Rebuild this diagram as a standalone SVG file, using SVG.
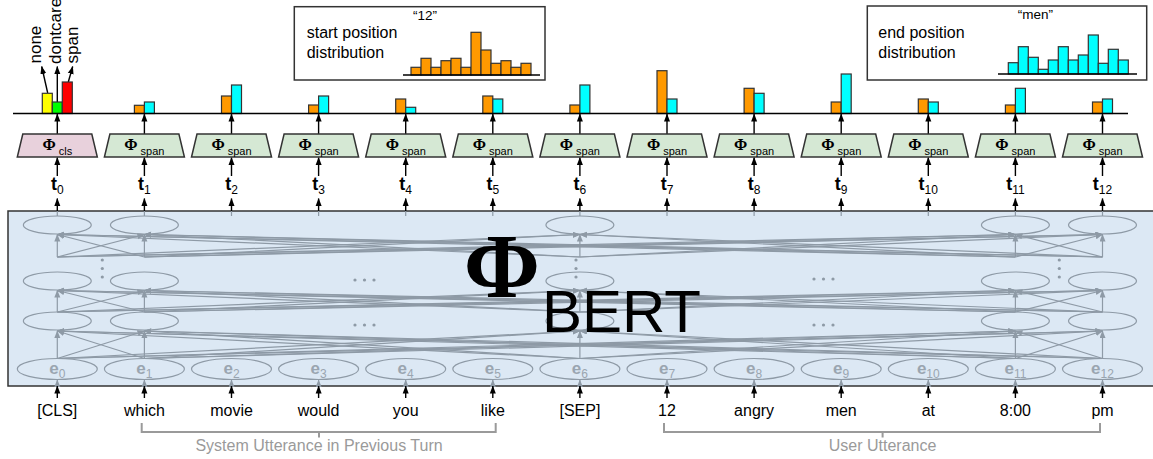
<svg xmlns="http://www.w3.org/2000/svg" width="1153" height="459" viewBox="0 0 1153 459">
<defs>
<marker id="ab" markerUnits="userSpaceOnUse" markerWidth="8" markerHeight="7" refX="7.5" refY="3.5" orient="auto"><path d="M0,0.5 L8,3.5 L0,6.5 z" fill="#000"/></marker>
<marker id="ag" markerUnits="userSpaceOnUse" markerWidth="8" markerHeight="7" refX="7" refY="3" orient="auto"><path d="M0,0 L7.5,3 L0,6 z" fill="#8e9aa6"/></marker>
</defs>
<style>
text{font-family:"Liberation Sans",Arial,sans-serif}
.net line{stroke:#8e9aa6;stroke-width:1.2;marker-end:url(#ag)}
.gl{stroke:#8e9aa6;stroke-width:1.2}
.ell{fill:none;stroke:#8e9aa6;stroke-width:1.2}
.blk{stroke:#000;stroke-width:1.4;marker-end:url(#ab)}
.tcls{fill:#e8d1dc;stroke:#333;stroke-width:1.5}
.tspan{fill:#d5e8d4;stroke:#333;stroke-width:1.5}
.or{fill:#ff9900;stroke:#333;stroke-width:1.2}
.cy{fill:#00ffff;stroke:#333;stroke-width:1.2}
.phi{font-family:"Liberation Serif","Times New Roman",serif;font-weight:bold;font-size:16px}
.bigphi{font-family:"Liberation Serif","Times New Roman",serif;font-weight:bold;font-size:92px}
.sub{font-size:11px}
.tl{font-weight:bold;font-size:18px}
.el{font-weight:bold;font-size:17px;fill:#9aa5b0}
.tok{font-size:16px;fill:#000}
.dot{fill:#8e9aa6}
.box{fill:#fff;stroke:#333;stroke-width:1.5}
.lbl{font-size:16px}
.slot{font-size:17px}
.q{font-size:13.5px}
.brk{fill:none;stroke:#9a9a9a;stroke-width:2}
.bt{font-size:16px;fill:#9a9a9a}
</style>

<g id="bert">
<rect x="8" y="211" width="1150" height="175" fill="#dce8f4" stroke="#333" stroke-width="1.5"/>
<g id="ellipses">
<ellipse class="ell" cx="57.3" cy="225" rx="34" ry="9"/><ellipse class="ell" cx="144.4" cy="225" rx="34" ry="9"/><ellipse class="ell" cx="579.9" cy="225" rx="34" ry="9"/><ellipse class="ell" cx="1015.4" cy="225" rx="34" ry="9"/><ellipse class="ell" cx="1102.5" cy="225" rx="34" ry="9"/>
<ellipse class="ell" cx="57.3" cy="281" rx="34" ry="9"/><ellipse class="ell" cx="144.4" cy="281" rx="34" ry="9"/><ellipse class="ell" cx="579.9" cy="281" rx="34" ry="9"/><ellipse class="ell" cx="1015.4" cy="281" rx="34" ry="9"/><ellipse class="ell" cx="1102.5" cy="281" rx="34" ry="9"/>
<ellipse class="ell" cx="57.3" cy="321" rx="34" ry="9"/><ellipse class="ell" cx="144.4" cy="321" rx="34" ry="9"/><ellipse class="ell" cx="579.9" cy="321" rx="34" ry="9"/><ellipse class="ell" cx="1015.4" cy="321" rx="34" ry="9"/><ellipse class="ell" cx="1102.5" cy="321" rx="34" ry="9"/>
</g>
<g id="embeddings">
<ellipse class="ell" cx="57.3" cy="369" rx="40" ry="10.5"/><ellipse class="ell" cx="144.4" cy="369" rx="40" ry="10.5"/><ellipse class="ell" cx="231.5" cy="369" rx="40" ry="10.5"/><ellipse class="ell" cx="318.6" cy="369" rx="40" ry="10.5"/><ellipse class="ell" cx="405.7" cy="369" rx="40" ry="10.5"/><ellipse class="ell" cx="492.8" cy="369" rx="40" ry="10.5"/><ellipse class="ell" cx="579.9" cy="369" rx="40" ry="10.5"/><ellipse class="ell" cx="667" cy="369" rx="40" ry="10.5"/><ellipse class="ell" cx="754.1" cy="369" rx="40" ry="10.5"/><ellipse class="ell" cx="841.2" cy="369" rx="40" ry="10.5"/><ellipse class="ell" cx="928.3" cy="369" rx="40" ry="10.5"/><ellipse class="ell" cx="1015.4" cy="369" rx="40" ry="10.5"/><ellipse class="ell" cx="1102.5" cy="369" rx="40" ry="10.5"/>
<text class="el" x="57.3" y="374" text-anchor="middle">e<tspan font-weight="normal" font-size="12" dy="4">0</tspan></text>
<text class="el" x="144.4" y="374" text-anchor="middle">e<tspan font-weight="normal" font-size="12" dy="4">1</tspan></text>
<text class="el" x="231.5" y="374" text-anchor="middle">e<tspan font-weight="normal" font-size="12" dy="4">2</tspan></text>
<text class="el" x="318.6" y="374" text-anchor="middle">e<tspan font-weight="normal" font-size="12" dy="4">3</tspan></text>
<text class="el" x="405.7" y="374" text-anchor="middle">e<tspan font-weight="normal" font-size="12" dy="4">4</tspan></text>
<text class="el" x="492.8" y="374" text-anchor="middle">e<tspan font-weight="normal" font-size="12" dy="4">5</tspan></text>
<text class="el" x="579.9" y="374" text-anchor="middle">e<tspan font-weight="normal" font-size="12" dy="4">6</tspan></text>
<text class="el" x="667" y="374" text-anchor="middle">e<tspan font-weight="normal" font-size="12" dy="4">7</tspan></text>
<text class="el" x="754.1" y="374" text-anchor="middle">e<tspan font-weight="normal" font-size="12" dy="4">8</tspan></text>
<text class="el" x="841.2" y="374" text-anchor="middle">e<tspan font-weight="normal" font-size="12" dy="4">9</tspan></text>
<text class="el" x="928.3" y="374" text-anchor="middle">e<tspan font-weight="normal" font-size="12" dy="4">10</tspan></text>
<text class="el" x="1015.4" y="374" text-anchor="middle">e<tspan font-weight="normal" font-size="12" dy="4">11</tspan></text>
<text class="el" x="1102.5" y="374" text-anchor="middle">e<tspan font-weight="normal" font-size="12" dy="4">12</tspan></text>
</g>
<g id="dots">
<circle class="dot" cx="102.3" cy="260" r="1.6"/><circle class="dot" cx="102.3" cy="268.5" r="1.6"/><circle class="dot" cx="102.3" cy="277" r="1.6"/>
<circle class="dot" cx="576" cy="260" r="1.6"/><circle class="dot" cx="576" cy="268.5" r="1.6"/><circle class="dot" cx="576" cy="277" r="1.6"/>
<circle class="dot" cx="1059.3" cy="260" r="1.6"/><circle class="dot" cx="1059.3" cy="268.5" r="1.6"/><circle class="dot" cx="1059.3" cy="277" r="1.6"/>
<circle class="dot" cx="355" cy="280" r="1.6"/><circle class="dot" cx="364.5" cy="280" r="1.6"/><circle class="dot" cx="374" cy="280" r="1.6"/>
<circle class="dot" cx="355" cy="325" r="1.6"/><circle class="dot" cx="364.5" cy="325" r="1.6"/><circle class="dot" cx="374" cy="325" r="1.6"/>
<circle class="dot" cx="814" cy="279" r="1.6"/><circle class="dot" cx="823.5" cy="279" r="1.6"/><circle class="dot" cx="833" cy="279" r="1.6"/>
<circle class="dot" cx="814" cy="325" r="1.6"/><circle class="dot" cx="823.5" cy="325" r="1.6"/><circle class="dot" cx="833" cy="325" r="1.6"/>
</g>
</g>

<g id="connectors">
<g class="net">
<line x1="57.3" y1="358.5" x2="57.3" y2="331"/><line x1="57.3" y1="358.5" x2="144.4" y2="331"/><line x1="57.3" y1="358.5" x2="579.9" y2="331"/><line x1="57.3" y1="358.5" x2="1015.4" y2="331"/><line x1="57.3" y1="358.5" x2="1102.5" y2="331"/>
<line x1="144.4" y1="358.5" x2="57.3" y2="331"/><line x1="144.4" y1="358.5" x2="144.4" y2="331"/><line x1="144.4" y1="358.5" x2="579.9" y2="331"/><line x1="144.4" y1="358.5" x2="1015.4" y2="331"/><line x1="144.4" y1="358.5" x2="1102.5" y2="331"/>
<line x1="579.9" y1="358.5" x2="57.3" y2="331"/><line x1="579.9" y1="358.5" x2="144.4" y2="331"/><line x1="579.9" y1="358.5" x2="579.9" y2="331"/><line x1="579.9" y1="358.5" x2="1015.4" y2="331"/><line x1="579.9" y1="358.5" x2="1102.5" y2="331"/>
<line x1="1015.4" y1="358.5" x2="57.3" y2="331"/><line x1="1015.4" y1="358.5" x2="144.4" y2="331"/><line x1="1015.4" y1="358.5" x2="579.9" y2="331"/><line x1="1015.4" y1="358.5" x2="1015.4" y2="331"/><line x1="1015.4" y1="358.5" x2="1102.5" y2="331"/>
<line x1="1102.5" y1="358.5" x2="57.3" y2="331"/><line x1="1102.5" y1="358.5" x2="144.4" y2="331"/><line x1="1102.5" y1="358.5" x2="579.9" y2="331"/><line x1="1102.5" y1="358.5" x2="1015.4" y2="331"/><line x1="1102.5" y1="358.5" x2="1102.5" y2="331"/>

<line x1="57.3" y1="312" x2="57.3" y2="290.5"/><line x1="57.3" y1="312" x2="144.4" y2="290.5"/><line x1="57.3" y1="312" x2="579.9" y2="290.5"/><line x1="57.3" y1="312" x2="1015.4" y2="290.5"/><line x1="57.3" y1="312" x2="1102.5" y2="290.5"/>
<line x1="144.4" y1="312" x2="57.3" y2="290.5"/><line x1="144.4" y1="312" x2="144.4" y2="290.5"/><line x1="144.4" y1="312" x2="579.9" y2="290.5"/><line x1="144.4" y1="312" x2="1015.4" y2="290.5"/><line x1="144.4" y1="312" x2="1102.5" y2="290.5"/>
<line x1="579.9" y1="312" x2="57.3" y2="290.5"/><line x1="579.9" y1="312" x2="144.4" y2="290.5"/><line x1="579.9" y1="312" x2="579.9" y2="290.5"/><line x1="579.9" y1="312" x2="1015.4" y2="290.5"/><line x1="579.9" y1="312" x2="1102.5" y2="290.5"/>
<line x1="1015.4" y1="312" x2="57.3" y2="290.5"/><line x1="1015.4" y1="312" x2="144.4" y2="290.5"/><line x1="1015.4" y1="312" x2="579.9" y2="290.5"/><line x1="1015.4" y1="312" x2="1015.4" y2="290.5"/><line x1="1015.4" y1="312" x2="1102.5" y2="290.5"/>
<line x1="1102.5" y1="312" x2="57.3" y2="290.5"/><line x1="1102.5" y1="312" x2="144.4" y2="290.5"/><line x1="1102.5" y1="312" x2="579.9" y2="290.5"/><line x1="1102.5" y1="312" x2="1015.4" y2="290.5"/><line x1="1102.5" y1="312" x2="1102.5" y2="290.5"/>

<line x1="57.3" y1="257" x2="57.3" y2="234.5"/><line x1="57.3" y1="257" x2="144.4" y2="234.5"/><line x1="57.3" y1="257" x2="579.9" y2="234.5"/><line x1="57.3" y1="257" x2="1015.4" y2="234.5"/><line x1="57.3" y1="257" x2="1102.5" y2="234.5"/>
<line x1="144.4" y1="257" x2="57.3" y2="234.5"/><line x1="144.4" y1="257" x2="144.4" y2="234.5"/><line x1="144.4" y1="257" x2="579.9" y2="234.5"/><line x1="144.4" y1="257" x2="1015.4" y2="234.5"/><line x1="144.4" y1="257" x2="1102.5" y2="234.5"/>
<line x1="579.9" y1="257" x2="57.3" y2="234.5"/><line x1="579.9" y1="257" x2="144.4" y2="234.5"/><line x1="579.9" y1="257" x2="579.9" y2="234.5"/><line x1="579.9" y1="257" x2="1015.4" y2="234.5"/><line x1="579.9" y1="257" x2="1102.5" y2="234.5"/>
<line x1="1015.4" y1="257" x2="57.3" y2="234.5"/><line x1="1015.4" y1="257" x2="144.4" y2="234.5"/><line x1="1015.4" y1="257" x2="579.9" y2="234.5"/><line x1="1015.4" y1="257" x2="1015.4" y2="234.5"/><line x1="1015.4" y1="257" x2="1102.5" y2="234.5"/>
<line x1="1102.5" y1="257" x2="57.3" y2="234.5"/><line x1="1102.5" y1="257" x2="144.4" y2="234.5"/><line x1="1102.5" y1="257" x2="579.9" y2="234.5"/><line x1="1102.5" y1="257" x2="1015.4" y2="234.5"/><line x1="1102.5" y1="257" x2="1102.5" y2="234.5"/>

<line x1="57.3" y1="386" x2="57.3" y2="380"/><line x1="144.4" y1="386" x2="144.4" y2="380"/><line x1="231.5" y1="386" x2="231.5" y2="380"/><line x1="318.6" y1="386" x2="318.6" y2="380"/><line x1="405.7" y1="386" x2="405.7" y2="380"/><line x1="492.8" y1="386" x2="492.8" y2="380"/><line x1="579.9" y1="386" x2="579.9" y2="380"/><line x1="667" y1="386" x2="667" y2="380"/><line x1="754.1" y1="386" x2="754.1" y2="380"/><line x1="841.2" y1="386" x2="841.2" y2="380"/><line x1="928.3" y1="386" x2="928.3" y2="380"/><line x1="1015.4" y1="386" x2="1015.4" y2="380"/><line x1="1102.5" y1="386" x2="1102.5" y2="380"/>
</g>
<g>
<line class="gl" x1="57.3" y1="216" x2="57.3" y2="211"/><line class="gl" x1="144.4" y1="216" x2="144.4" y2="211"/><line class="gl" x1="231.5" y1="216" x2="231.5" y2="211"/><line class="gl" x1="318.6" y1="216" x2="318.6" y2="211"/><line class="gl" x1="405.7" y1="216" x2="405.7" y2="211"/><line class="gl" x1="492.8" y1="216" x2="492.8" y2="211"/><line class="gl" x1="579.9" y1="216" x2="579.9" y2="211"/><line class="gl" x1="667" y1="216" x2="667" y2="211"/><line class="gl" x1="754.1" y1="216" x2="754.1" y2="211"/><line class="gl" x1="841.2" y1="216" x2="841.2" y2="211"/><line class="gl" x1="928.3" y1="216" x2="928.3" y2="211"/><line class="gl" x1="1015.4" y1="216" x2="1015.4" y2="211"/><line class="gl" x1="1102.5" y1="216" x2="1102.5" y2="211"/>
</g>
<g id="input-arrows">
<line class="blk" x1="57.3" y1="398" x2="57.3" y2="386"/><line class="blk" x1="144.4" y1="398" x2="144.4" y2="386"/><line class="blk" x1="231.5" y1="398" x2="231.5" y2="386"/><line class="blk" x1="318.6" y1="398" x2="318.6" y2="386"/><line class="blk" x1="405.7" y1="398" x2="405.7" y2="386"/><line class="blk" x1="492.8" y1="398" x2="492.8" y2="386"/><line class="blk" x1="579.9" y1="398" x2="579.9" y2="386"/><line class="blk" x1="667" y1="398" x2="667" y2="386"/><line class="blk" x1="754.1" y1="398" x2="754.1" y2="386"/><line class="blk" x1="841.2" y1="398" x2="841.2" y2="386"/><line class="blk" x1="928.3" y1="398" x2="928.3" y2="386"/><line class="blk" x1="1015.4" y1="398" x2="1015.4" y2="386"/><line class="blk" x1="1102.5" y1="398" x2="1102.5" y2="386"/>
</g>
<g id="bert-to-t">
<line class="blk" x1="57.3" y1="211" x2="57.3" y2="198.5"/><line class="blk" x1="144.4" y1="211" x2="144.4" y2="198.5"/><line class="blk" x1="231.5" y1="211" x2="231.5" y2="198.5"/><line class="blk" x1="318.6" y1="211" x2="318.6" y2="198.5"/><line class="blk" x1="405.7" y1="211" x2="405.7" y2="198.5"/><line class="blk" x1="492.8" y1="211" x2="492.8" y2="198.5"/><line class="blk" x1="579.9" y1="211" x2="579.9" y2="198.5"/><line class="blk" x1="667" y1="211" x2="667" y2="198.5"/><line class="blk" x1="754.1" y1="211" x2="754.1" y2="198.5"/><line class="blk" x1="841.2" y1="211" x2="841.2" y2="198.5"/><line class="blk" x1="928.3" y1="211" x2="928.3" y2="198.5"/><line class="blk" x1="1015.4" y1="211" x2="1015.4" y2="198.5"/><line class="blk" x1="1102.5" y1="211" x2="1102.5" y2="198.5"/>
</g>
<g id="t-to-phi">
<line class="blk" x1="57.3" y1="176" x2="57.3" y2="157.5"/><line class="blk" x1="144.4" y1="176" x2="144.4" y2="157.5"/><line class="blk" x1="231.5" y1="176" x2="231.5" y2="157.5"/><line class="blk" x1="318.6" y1="176" x2="318.6" y2="157.5"/><line class="blk" x1="405.7" y1="176" x2="405.7" y2="157.5"/><line class="blk" x1="492.8" y1="176" x2="492.8" y2="157.5"/><line class="blk" x1="579.9" y1="176" x2="579.9" y2="157.5"/><line class="blk" x1="667" y1="176" x2="667" y2="157.5"/><line class="blk" x1="754.1" y1="176" x2="754.1" y2="157.5"/><line class="blk" x1="841.2" y1="176" x2="841.2" y2="157.5"/><line class="blk" x1="928.3" y1="176" x2="928.3" y2="157.5"/><line class="blk" x1="1015.4" y1="176" x2="1015.4" y2="157.5"/><line class="blk" x1="1102.5" y1="176" x2="1102.5" y2="157.5"/>
</g>
<g id="phi-to-bars">
<line class="blk" x1="57.3" y1="134" x2="57.3" y2="114"/><line class="blk" x1="144.4" y1="134" x2="144.4" y2="114"/><line class="blk" x1="231.5" y1="134" x2="231.5" y2="114"/><line class="blk" x1="318.6" y1="134" x2="318.6" y2="114"/><line class="blk" x1="405.7" y1="134" x2="405.7" y2="114"/><line class="blk" x1="492.8" y1="134" x2="492.8" y2="114"/><line class="blk" x1="579.9" y1="134" x2="579.9" y2="114"/><line class="blk" x1="667" y1="134" x2="667" y2="114"/><line class="blk" x1="754.1" y1="134" x2="754.1" y2="114"/><line class="blk" x1="841.2" y1="134" x2="841.2" y2="114"/><line class="blk" x1="928.3" y1="134" x2="928.3" y2="114"/><line class="blk" x1="1015.4" y1="134" x2="1015.4" y2="114"/><line class="blk" x1="1102.5" y1="134" x2="1102.5" y2="114"/>
</g>
<g id="label-arrows">
<line class="blk" x1="47.7" y1="93" x2="41.7" y2="66.5"/>
<line class="blk" x1="57.3" y1="102" x2="57.3" y2="66.5"/>
<line class="blk" x1="68.3" y1="82" x2="72.7" y2="66.5"/>
<line class="blk" x1="476" y1="32.3" x2="426.5" y2="25.5" stroke-width="1.2"/>
<line class="blk" x1="1090.5" y1="35" x2="1037" y2="24" stroke-width="1.2"/>
</g>
</g>

<g id="phi-bert-label">
<text class="bigphi" x="502" y="297" text-anchor="middle">Φ</text>
<text x="542" y="332" font-size="60">BERT</text>
</g>

<g id="t-labels">
<text class="tl" x="57.3" y="190" text-anchor="middle">t<tspan font-weight="normal" font-size="12" dy="4">0</tspan></text>
<text class="tl" x="144.4" y="190" text-anchor="middle">t<tspan font-weight="normal" font-size="12" dy="4">1</tspan></text>
<text class="tl" x="231.5" y="190" text-anchor="middle">t<tspan font-weight="normal" font-size="12" dy="4">2</tspan></text>
<text class="tl" x="318.6" y="190" text-anchor="middle">t<tspan font-weight="normal" font-size="12" dy="4">3</tspan></text>
<text class="tl" x="405.7" y="190" text-anchor="middle">t<tspan font-weight="normal" font-size="12" dy="4">4</tspan></text>
<text class="tl" x="492.8" y="190" text-anchor="middle">t<tspan font-weight="normal" font-size="12" dy="4">5</tspan></text>
<text class="tl" x="579.9" y="190" text-anchor="middle">t<tspan font-weight="normal" font-size="12" dy="4">6</tspan></text>
<text class="tl" x="667" y="190" text-anchor="middle">t<tspan font-weight="normal" font-size="12" dy="4">7</tspan></text>
<text class="tl" x="754.1" y="190" text-anchor="middle">t<tspan font-weight="normal" font-size="12" dy="4">8</tspan></text>
<text class="tl" x="841.2" y="190" text-anchor="middle">t<tspan font-weight="normal" font-size="12" dy="4">9</tspan></text>
<text class="tl" x="928.3" y="190" text-anchor="middle">t<tspan font-weight="normal" font-size="12" dy="4">10</tspan></text>
<text class="tl" x="1015.4" y="190" text-anchor="middle">t<tspan font-weight="normal" font-size="12" dy="4">11</tspan></text>
<text class="tl" x="1102.5" y="190" text-anchor="middle">t<tspan font-weight="normal" font-size="12" dy="4">12</tspan></text>
</g>

<g id="phi-cls">
<polygon class="tcls" points="22.8,134 91.8,134 97.3,157 17.3,157"/>
<text x="57.3" y="149.5" text-anchor="middle"><tspan class="phi">Φ</tspan><tspan class="sub" dx="3" dy="5">cls</tspan></text>
</g>
<g id="phi-span">
<polygon class="tspan" points="109.9,134 178.9,134 184.4,157 104.4,157"/>
<polygon class="tspan" points="197,134 266,134 271.5,157 191.5,157"/>
<polygon class="tspan" points="284.1,134 353.1,134 358.6,157 278.6,157"/>
<polygon class="tspan" points="371.2,134 440.2,134 445.7,157 365.7,157"/>
<polygon class="tspan" points="458.3,134 527.3,134 532.8,157 452.8,157"/>
<polygon class="tspan" points="545.4,134 614.4,134 619.9,157 539.9,157"/>
<polygon class="tspan" points="632.5,134 701.5,134 707,157 627,157"/>
<polygon class="tspan" points="719.6,134 788.6,134 794.1,157 714.1,157"/>
<polygon class="tspan" points="806.7,134 875.7,134 881.2,157 801.2,157"/>
<polygon class="tspan" points="893.8,134 962.8,134 968.3,157 888.3,157"/>
<polygon class="tspan" points="980.9,134 1049.9,134 1055.4,157 975.4,157"/>
<polygon class="tspan" points="1068,134 1137,134 1142.5,157 1062.5,157"/>
<text x="144.4" y="149.5" text-anchor="middle"><tspan class="phi">Φ</tspan><tspan class="sub" dx="3" dy="5">span</tspan></text>
<text x="231.5" y="149.5" text-anchor="middle"><tspan class="phi">Φ</tspan><tspan class="sub" dx="3" dy="5">span</tspan></text>
<text x="318.6" y="149.5" text-anchor="middle"><tspan class="phi">Φ</tspan><tspan class="sub" dx="3" dy="5">span</tspan></text>
<text x="405.7" y="149.5" text-anchor="middle"><tspan class="phi">Φ</tspan><tspan class="sub" dx="3" dy="5">span</tspan></text>
<text x="492.8" y="149.5" text-anchor="middle"><tspan class="phi">Φ</tspan><tspan class="sub" dx="3" dy="5">span</tspan></text>
<text x="579.9" y="149.5" text-anchor="middle"><tspan class="phi">Φ</tspan><tspan class="sub" dx="3" dy="5">span</tspan></text>
<text x="667" y="149.5" text-anchor="middle"><tspan class="phi">Φ</tspan><tspan class="sub" dx="3" dy="5">span</tspan></text>
<text x="754.1" y="149.5" text-anchor="middle"><tspan class="phi">Φ</tspan><tspan class="sub" dx="3" dy="5">span</tspan></text>
<text x="841.2" y="149.5" text-anchor="middle"><tspan class="phi">Φ</tspan><tspan class="sub" dx="3" dy="5">span</tspan></text>
<text x="928.3" y="149.5" text-anchor="middle"><tspan class="phi">Φ</tspan><tspan class="sub" dx="3" dy="5">span</tspan></text>
<text x="1015.4" y="149.5" text-anchor="middle"><tspan class="phi">Φ</tspan><tspan class="sub" dx="3" dy="5">span</tspan></text>
<text x="1102.5" y="149.5" text-anchor="middle"><tspan class="phi">Φ</tspan><tspan class="sub" dx="3" dy="5">span</tspan></text>
</g>

<g id="bars">
<rect x="42.3" y="93.3" width="10" height="20.2" fill="#ffff00" stroke="#333" stroke-width="1.2"/>
<rect x="52.3" y="102" width="10" height="11.5" fill="#00ff00" stroke="#333" stroke-width="1.2"/>
<rect x="62.3" y="82" width="10" height="31.5" fill="#ff0000" stroke="#333" stroke-width="1.2"/>
<rect class="or" x="134.4" y="105.3" width="10" height="8.2"/><rect class="cy" x="144.4" y="102" width="10" height="11.5"/>
<rect class="or" x="221.5" y="96" width="10" height="17.5"/><rect class="cy" x="231.5" y="85" width="10" height="28.5"/>
<rect class="or" x="308.6" y="105" width="10" height="8.5"/><rect class="cy" x="318.6" y="96" width="10" height="17.5"/>
<rect class="or" x="395.7" y="99" width="10" height="14.5"/><rect class="cy" x="405.7" y="107.3" width="10" height="6.2"/>
<rect class="or" x="482.8" y="96" width="10" height="17.5"/><rect class="cy" x="492.8" y="99" width="10" height="14.5"/>
<rect class="or" x="569.9" y="105" width="10" height="8.5"/><rect class="cy" x="579.9" y="85" width="10" height="28.5"/>
<rect class="or" x="657" y="70.7" width="10" height="42.8"/><rect class="cy" x="667" y="99" width="10" height="14.5"/>
<rect class="or" x="744.1" y="88.3" width="10" height="25.2"/><rect class="cy" x="754.1" y="93.3" width="10" height="20.2"/>
<rect class="or" x="831.2" y="102" width="10" height="11.5"/><rect class="cy" x="841.2" y="74" width="10" height="39.5"/>
<rect class="or" x="918.3" y="99" width="10" height="14.5"/><rect class="cy" x="928.3" y="102" width="10" height="11.5"/>
<rect class="or" x="1005.4" y="105" width="10" height="8.5"/><rect class="cy" x="1015.4" y="88.3" width="10" height="25.2"/>
<rect class="or" x="1092.5" y="102" width="10" height="11.5"/><rect class="cy" x="1102.5" y="99" width="10" height="14.5"/>
<line x1="13" y1="113.5" x2="1128" y2="113.5" stroke="#000" stroke-width="1.5"/>
</g>

<g id="slot-labels">
<text class="slot" transform="translate(40.7,63.5) rotate(-90)">none</text>
<text class="slot" transform="translate(61,64) rotate(-90)" font-size="15.5">dontcare</text>
<text class="slot" transform="translate(77.5,63.5) rotate(-90)">span</text>
</g>

<g id="start-dist">
<rect class="box" x="294.3" y="6.7" width="250.7" height="73.3"/>
<text class="lbl" x="306.7" y="37.5">start position</text>
<text class="lbl" x="306.7" y="58">distribution</text>
<rect class="or" x="411" y="67.3" width="10" height="7.7"/><rect class="or" x="421" y="58.3" width="10" height="16.7"/><rect class="or" x="431" y="67.3" width="10" height="7.7"/><rect class="or" x="441" y="60.7" width="10" height="14.3"/><rect class="or" x="451" y="58.3" width="10" height="16.7"/><rect class="or" x="461" y="67.3" width="10" height="7.7"/><rect class="or" x="471" y="32.3" width="10" height="42.7"/><rect class="or" x="481" y="50" width="10" height="25"/><rect class="or" x="491" y="63.3" width="10" height="11.7"/><rect class="or" x="501" y="60.7" width="10" height="14.3"/><rect class="or" x="511" y="67.3" width="10" height="7.7"/><rect class="or" x="521" y="63.3" width="10" height="11.7"/>
<line x1="403" y1="75" x2="540" y2="75" stroke="#000" stroke-width="1.3"/>
<text class="q" x="425" y="20" text-anchor="middle">“12”</text>
</g>

<g id="end-dist">
<rect class="box" x="867.3" y="6" width="279.4" height="74"/>
<text class="lbl" x="878.3" y="38">end position</text>
<text class="lbl" x="878.3" y="58.3">distribution</text>
<rect class="cy" x="1008.3" y="62.7" width="10" height="11.3"/><rect class="cy" x="1018.3" y="46.7" width="10" height="27.3"/><rect class="cy" x="1028.3" y="57.3" width="10" height="16.7"/><rect class="cy" x="1038.3" y="69.3" width="10" height="4.7"/><rect class="cy" x="1048.3" y="60" width="10" height="14"/><rect class="cy" x="1058.3" y="46.7" width="10" height="27.3"/><rect class="cy" x="1068.3" y="60" width="10" height="14"/><rect class="cy" x="1078.3" y="55" width="10" height="19"/><rect class="cy" x="1088.3" y="35" width="10" height="39"/><rect class="cy" x="1098.3" y="63.3" width="10" height="10.7"/><rect class="cy" x="1108.3" y="49.3" width="10" height="24.7"/><rect class="cy" x="1118.3" y="60" width="10" height="14"/>
<line x1="998" y1="74" x2="1137" y2="74" stroke="#000" stroke-width="1.3"/>
<text class="q" x="1035.5" y="19" text-anchor="middle">“men”</text>
</g>

<g id="tokens">
<text class="tok" x="57.3" y="416" text-anchor="middle">[CLS]</text>
<text class="tok" x="144.4" y="416" text-anchor="middle">which</text>
<text class="tok" x="231.5" y="416" text-anchor="middle">movie</text>
<text class="tok" x="318.6" y="416" text-anchor="middle">would</text>
<text class="tok" x="405.7" y="416" text-anchor="middle">you</text>
<text class="tok" x="492.8" y="416" text-anchor="middle">like</text>
<text class="tok" x="579.9" y="416" text-anchor="middle">[SEP]</text>
<text class="tok" x="667" y="416" text-anchor="middle">12</text>
<text class="tok" x="754.1" y="416" text-anchor="middle">angry</text>
<text class="tok" x="841.2" y="416" text-anchor="middle">men</text>
<text class="tok" x="928.3" y="416" text-anchor="middle">at</text>
<text class="tok" x="1015.4" y="416" text-anchor="middle">8:00</text>
<text class="tok" x="1102.5" y="416" text-anchor="middle">pm</text>
</g>

<g id="brackets">
<path class="brk" d="M141.7,423 V432 H495.7 V423 M319,432 V437.5"/>
<text class="bt" x="319" y="450.5" text-anchor="middle">System Utterance in Previous Turn</text>
<path class="brk" d="M664,423 V432 H1100 V423 M882.6,432 V437.5"/>
<text class="bt" x="882.6" y="450.5" text-anchor="middle">User Utterance</text>
</g>
</svg>
